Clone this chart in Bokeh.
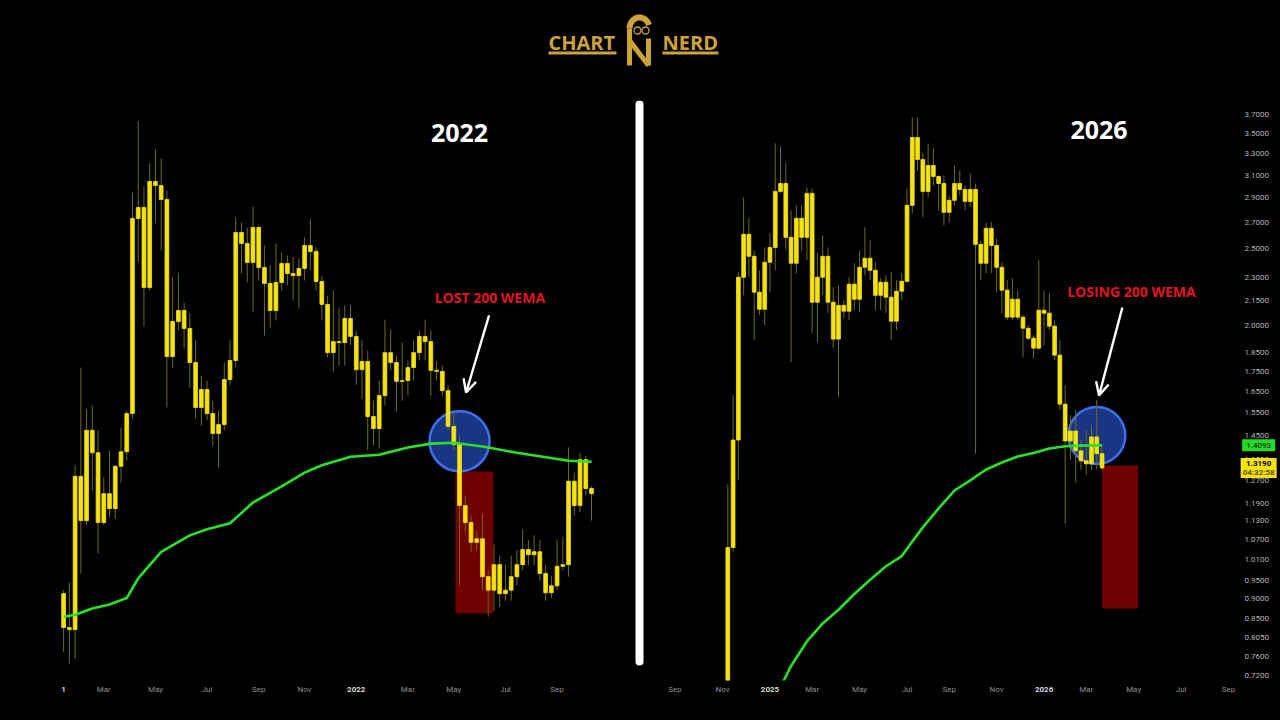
import numpy as np
import pandas as pd
from bokeh.plotting import figure
from bokeh.layouts import column, row
from bokeh.models import (Range1d, FixedTicker, NumeralTickFormatter, LinearAxis,
                          Arrow, OpenHead, ColumnDataSource, LogScale)
from bokeh.core.properties import value
from bokeh.embed import file_html
from bokeh.resources import INLINE

EPOCH = pd.Timestamp("1970-01-01")


def day(d):
    """Date -> days since epoch (the x unit of both panels)."""
    return float((pd.Timestamp(d) - EPOCH) / pd.Timedelta(days=1))


# ---------------- 2021-2022 weekly candles ----------------
left_first_week = "2021-01-11"
left_open = [0.273, 0.237, 0.235, 0.445, 0.370, 0.539, 0.491, 0.367, 0.414, 0.389,
             0.464, 0.493, 0.578, 1.303, 1.364, 0.977, 1.520, 1.495, 1.410, 0.733,
             0.848, 0.888, 0.824, 0.715, 0.593, 0.639, 0.578, 0.532, 0.552, 0.666,
             0.721, 1.229, 1.174, 1.085, 1.255, 1.062, 0.994, 0.888, 0.998, 1.080,
             1.036, 1.027, 1.058, 1.164, 1.136, 1.002, 0.911, 0.745, 0.780, 0.777,
             0.859, 0.797, 0.694, 0.718, 0.571, 0.543, 0.623, 0.745, 0.715, 0.661,
             0.663, 0.700, 0.745, 0.797, 0.780, 0.692, 0.689, 0.636, 0.548, 0.508,
             0.394, 0.367, 0.338, 0.343, 0.293, 0.277, 0.308, 0.273, 0.277, 0.293,
             0.308, 0.328, 0.321, 0.325, 0.297, 0.274, 0.282, 0.306, 0.308, 0.436,
             0.394, 0.477, 0.423]
left_close = [0.237, 0.235, 0.445, 0.370, 0.539, 0.491, 0.367, 0.414, 0.389, 0.464,
              0.493, 0.578, 1.303, 1.364, 0.977, 1.520, 1.495, 1.410, 0.733, 0.848,
              0.888, 0.824, 0.715, 0.593, 0.639, 0.578, 0.532, 0.552, 0.666, 0.721,
              1.229, 1.174, 1.085, 1.255, 1.062, 0.994, 0.888, 0.998, 1.080, 1.036,
              1.027, 1.058, 1.164, 1.136, 1.002, 0.911, 0.745, 0.780, 0.777, 0.859,
              0.797, 0.694, 0.718, 0.571, 0.543, 0.623, 0.745, 0.715, 0.661, 0.663,
              0.700, 0.745, 0.797, 0.780, 0.692, 0.689, 0.636, 0.548, 0.508, 0.394,
              0.367, 0.338, 0.343, 0.293, 0.277, 0.308, 0.273, 0.277, 0.293, 0.308,
              0.328, 0.321, 0.325, 0.297, 0.274, 0.282, 0.306, 0.308, 0.436, 0.394,
              0.477, 0.423, 0.414]
left_high = [0.277, 0.286, 0.466, 0.700, 0.588, 0.598, 0.539, 0.443, 0.496, 0.466,
             0.545, 0.585, 1.452, 1.952, 1.489, 1.639, 1.737, 1.673, 1.464, 1.019,
             1.040, 0.918, 0.877, 0.784, 0.677, 0.663, 0.610, 0.585, 0.715, 0.784,
             1.308, 1.281, 1.255, 1.370, 1.265, 1.164, 1.071, 1.174, 1.131, 1.117,
             1.108, 1.103, 1.204, 1.303, 1.155, 1.027, 0.945, 0.965, 0.899, 0.907,
             0.907, 0.817, 0.784, 0.752, 0.610, 0.663, 0.855, 0.820, 0.736, 0.777,
             0.721, 0.784, 0.817, 0.855, 0.817, 0.718, 0.706, 0.650, 0.581, 0.527,
             0.411, 0.378, 0.355, 0.381, 0.301, 0.335, 0.320, 0.308, 0.320, 0.327,
             0.357, 0.341, 0.348, 0.341, 0.307, 0.294, 0.342, 0.346, 0.502, 0.452,
             0.491, 0.485, 0.427]
left_low = [0.214, 0.204, 0.208, 0.297, 0.364, 0.419, 0.323, 0.363, 0.375, 0.373,
            0.434, 0.475, 0.566, 1.085, 0.831, 0.965, 1.276, 1.140, 0.593, 0.700,
            0.817, 0.758, 0.644, 0.566, 0.550, 0.562, 0.506, 0.462, 0.539, 0.650,
            0.700, 1.036, 0.998, 0.881, 1.006, 0.800, 0.827, 0.852, 0.965, 0.986,
            0.926, 0.896, 1.006, 1.049, 0.965, 0.852, 0.730, 0.686, 0.706, 0.706,
            0.768, 0.652, 0.615, 0.496, 0.506, 0.500, 0.598, 0.692, 0.583, 0.610,
            0.623, 0.663, 0.721, 0.721, 0.621, 0.663, 0.623, 0.539, 0.496, 0.282,
            0.352, 0.324, 0.327, 0.277, 0.248, 0.254, 0.258, 0.265, 0.265, 0.282,
            0.301, 0.307, 0.307, 0.288, 0.265, 0.268, 0.277, 0.301, 0.293, 0.378,
            0.383, 0.411, 0.370]
# 200-week EMA, sampled at these candle indices
left_ema_week = [0, 2, 5, 8, 11, 13, 17, 22, 25, 29, 33, 38, 42, 45, 50, 55, 60,
                 64, 68, 73, 79, 88, 92]
left_ema = [0.248, 0.250, 0.2565, 0.261, 0.268, 0.291, 0.325, 0.348, 0.357, 0.366,
            0.399, 0.427, 0.452, 0.466, 0.483, 0.487, 0.502, 0.510, 0.512, 0.504,
            0.491, 0.475, 0.473]
left_month_dates = ["2021-03-01", "2021-05-03", "2021-07-05", "2021-09-06",
                    "2021-11-01", "2022-03-07", "2022-05-02", "2022-07-04", "2022-09-05"]
left_month_labels = ["Mar", "May", "Jul", "Sep", "Nov", "Mar", "May", "Jul", "Sep"]
# the 2021 year label is cut down to its last digit at the panel's left edge
left_year_dates = ["2021-01-11", "2022-01-03"]
left_year_labels = ["1", "2022"]
left_view_x = ("2020-10-26", "2022-12-06")
left_view_y = (0.1901, 2.130)

# breakdown markers 2022
left_break_date, left_break_price = "2022-05-09", 0.515
left_zone = dict(start="2022-05-04", end="2022-06-19", top=0.454, bottom=0.2515)
left_arrow = dict(x0="2022-06-14", y0=0.870, x1="2022-05-17", y1=0.631)
left_note = dict(date="2022-06-15", price=0.937, text="LOST 200 WEMA")
left_title = dict(date="2022-05-09", price=1.857, text="2022")

# ---------------- 2024-2026 weekly candles ----------------
right_first_week = "2024-11-11"
right_open = [0.60, 1.046, 1.431, 2.301, 2.608, 2.446, 2.203, 2.096, 2.404, 2.510,
              2.956, 3.025, 2.585, 2.397, 2.733, 2.585, 2.939, 2.139, 2.301, 2.446,
              2.139, 1.921, 2.120, 2.084, 2.255, 2.158, 2.369, 2.432, 2.348, 2.183,
              2.268, 2.171, 2.024, 2.209, 2.274, 2.838, 3.460, 3.245, 2.956, 3.188,
              3.088, 3.025, 2.781, 2.880, 3.025, 2.973, 2.871, 2.973, 2.533, 2.397,
              2.654, 2.525, 2.369, 2.216, 2.048, 2.158, 2.048, 1.983, 1.926, 1.871,
              2.090, 2.072, 1.995, 1.833, 1.589, 1.427, 1.469, 1.387, 1.347, 1.335,
              1.444, 1.375]
right_close = [1.046, 1.431, 2.301, 2.608, 2.446, 2.203, 2.096, 2.404, 2.510, 2.956,
               3.025, 2.585, 2.397, 2.733, 2.585, 2.939, 2.139, 2.301, 2.446, 2.139,
               1.921, 2.120, 2.084, 2.255, 2.158, 2.369, 2.432, 2.348, 2.183, 2.268,
               2.171, 2.024, 2.209, 2.274, 2.838, 3.460, 3.245, 2.956, 3.188, 3.088,
               3.025, 2.781, 2.880, 3.025, 2.973, 2.871, 2.973, 2.533, 2.397, 2.654,
               2.525, 2.369, 2.216, 2.048, 2.158, 2.048, 1.983, 1.926, 1.871, 2.090,
               2.072, 1.995, 1.833, 1.589, 1.427, 1.469, 1.387, 1.347, 1.335, 1.444,
               1.375, 1.319]
right_high = [1.257, 1.631, 2.335, 2.905, 2.733, 2.489, 2.348, 2.510, 2.616, 3.400,
              3.370, 3.217, 2.797, 2.838, 2.838, 2.990, 2.981, 2.474, 2.600, 2.510,
              2.235, 2.248, 2.152, 2.301, 2.397, 2.489, 2.662, 2.562, 2.404, 2.294,
              2.314, 2.335, 2.281, 2.328, 2.981, 3.668, 3.668, 3.312, 3.400, 3.360,
              3.096, 3.096, 2.922, 3.188, 3.142, 3.008, 3.115, 3.025, 2.562, 2.701,
              2.701, 2.577, 2.404, 2.281, 2.294, 2.216, 2.060, 2.001, 1.943, 2.418,
              2.216, 2.196, 2.030, 1.915, 1.679, 1.539, 1.562, 1.431, 1.474, 1.495,
              1.608, 1.411]
right_low = [0.58, 1.034, 1.275, 2.183, 2.301, 1.915, 2.060, 2.001, 2.203, 2.348,
             2.939, 2.489, 1.796, 2.328, 2.489, 2.418, 1.955, 1.904, 2.183, 2.072,
             1.871, 1.622, 2.042, 2.030, 2.090, 2.078, 2.314, 2.281, 2.090, 2.090,
             2.072, 1.915, 1.972, 2.152, 2.261, 2.773, 3.142, 2.741, 2.905, 3.008,
             2.797, 2.678, 2.701, 2.838, 2.922, 2.797, 2.822, 1.375, 2.281, 2.328,
             2.328, 2.203, 2.072, 2.030, 2.030, 2.030, 1.822, 1.915, 1.817, 1.860,
             1.887, 1.972, 1.806, 1.562, 1.119, 1.351, 1.264, 1.312, 1.293, 1.312,
             1.312, 1.312]
right_ema_week = [9, 12, 15, 18, 21, 24, 27, 30, 33, 35, 37, 40, 43, 46, 49, 52, 55,
                  58, 61, 64, 67, 71]
right_ema = [0.675, 0.74, 0.795, 0.838, 0.872, 0.913, 0.952, 0.99, 1.02, 1.064, 1.109,
             1.172, 1.235, 1.272, 1.313, 1.34, 1.364, 1.378, 1.396, 1.405, 1.408, 1.4093]
right_month_dates = ["2024-09-02", "2024-11-04", "2025-03-03", "2025-05-05",
                     "2025-07-07", "2025-09-01", "2025-11-03", "2026-03-02",
                     "2026-05-04", "2026-07-06", "2026-09-07"]
right_month_labels = ["Sep", "Nov", "Mar", "May", "Jul", "Sep", "Nov", "Mar",
                      "May", "Jul", "Sep"]
right_year_dates = ["2025-01-06", "2026-01-05"]
right_year_labels = ["2025", "2026"]
right_price_ticks = [3.7, 3.5, 3.3, 3.1, 2.9, 2.7, 2.5, 2.3, 2.15, 2.0, 1.85, 1.75,
                     1.65, 1.55, 1.45, 1.35, 1.27, 1.19, 1.13, 1.07, 1.01, 0.95,
                     0.90, 0.85, 0.805, 0.76, 0.72]
right_view_x = ("2024-07-26", "2026-11-15")
right_view_y = (0.7094, 3.854)
tag_date = "2026-10-17"          # price-scale column, right of the last bar
bar_countdown = "04:32:58"

right_break_date, right_break_price = "2026-03-16", 1.45
right_zone = dict(start="2026-03-23", end="2026-05-10", top=1.328, bottom=0.875)
right_arrow = dict(x0="2026-04-19", y0=2.107, x1="2026-03-19", y1=1.630)
right_note = dict(date="2026-05-01", price=2.207, text="LOSING 200 WEMA")
right_title = dict(date="2026-03-19", price=3.531, text="2026")

# ---------------- styling ----------------
BG = "#000000"
YELLOW = "#f6e20f"
WICK = "#6f6a1a"
EMA_GREEN = "#27e327"
ZONE_RED = "#700000"
CIRCLE_FILL = "#1b3a8e"
CIRCLE_LINE = "#3d70ee"
NOTE_RED = "#e3141b"
GOLD = "#cda236"
AXIS_GRAY = "#8e8e8e"
PANEL_H = 628


def style_time_axis(ax, dates, labels, color, bold, standoff):
    ax.ticker = FixedTicker(ticks=[day(d) for d in dates])
    ax.major_label_overrides = {day(d): t for d, t in zip(dates, labels)}
    ax.axis_line_color = None
    ax.major_tick_line_color = None
    ax.minor_tick_line_color = None
    ax.major_tick_out = 0
    ax.major_tick_in = 0
    ax.minor_tick_out = 0
    ax.major_label_standoff = standoff
    ax.major_label_text_color = color
    ax.major_label_text_font = "Roboto"
    ax.major_label_text_font_size = "8px"
    ax.major_label_text_font_style = "bold" if bold else "normal"


def candle_panel(first_week, o, c, h, l, ema_idx, ema_vals, view_x, view_y,
                 width, body_days, month_dates, month_labels, year_dates,
                 year_labels, price_axis):
    weeks = pd.date_range(first_week, periods=len(o), freq="7D")
    xs = [day(w) for w in weeks]
    src = ColumnDataSource(dict(
        x=xs,
        top=[max(a, b) for a, b in zip(o, c)],
        bottom=[min(a, b) for a, b in zip(o, c)],
        high=h, low=l))

    p = figure(width=width, height=PANEL_H,
               x_range=Range1d(day(view_x[0]), day(view_x[1])),
               y_range=Range1d(*view_y), y_axis_type="log",
               y_axis_location="right" if price_axis else None,
               output_backend="svg", toolbar_location=None,
               background_fill_color=BG, border_fill_color=BG,
               outline_line_color=None, min_border_top=8, min_border_bottom=40,
               min_border_left=0, min_border_right=0)
    p.y_scale = LogScale()
    p.xgrid.visible = False
    p.ygrid.visible = False

    # month names, then a second row for the (bold) year labels on the same line
    style_time_axis(p.xaxis[0], month_dates, month_labels, AXIS_GRAY, False, 4)
    years = LinearAxis()
    style_time_axis(years, year_dates, year_labels, "#d8d8d8", True, -10)
    p.add_layout(years, "below")

    if price_axis:
        ya = p.yaxis[0]
        ya.ticker = FixedTicker(ticks=right_price_ticks)
        ya.formatter = NumeralTickFormatter(format="0.0000")
        ya.axis_line_color = None
        ya.major_tick_line_color = None
        ya.minor_tick_line_color = None
        ya.major_tick_out = 0
        ya.major_tick_in = 0
        ya.minor_tick_out = 0
        ya.major_label_standoff = -36
        ya.major_label_text_color = "#b4b4b4"
        ya.major_label_text_font = "Roboto"
        ya.major_label_text_font_size = "8px"

    p.segment(x0="x", y0="low", x1="x", y1="high", source=src,
              line_color=WICK, line_width=1)
    p.vbar(x="x", width=body_days, top="top", bottom="bottom", source=src,
           fill_color=YELLOW, line_color=YELLOW, line_width=0.8)
    p.line([xs[i] for i in ema_idx], ema_vals, line_color=EMA_GREEN,
           line_width=2.6, line_join="round")
    return p


def markers(p, break_date, break_price, size, zone, arrow, note, title):
    # projected drop zone and the EMA-loss circle sit under the candles
    p.quad(left=[day(zone["start"])], right=[day(zone["end"])],
           top=[zone["top"]], bottom=[zone["bottom"]],
           fill_color=ZONE_RED, line_color=None, level="underlay")
    p.scatter(x=[day(break_date)], y=[break_price], size=size, marker="circle",
              fill_color=CIRCLE_FILL, fill_alpha=0.92, line_color=CIRCLE_LINE,
              line_width=2.5, level="underlay")
    p.add_layout(Arrow(end=OpenHead(size=13, line_color="white", line_width=2.4),
                       x_start=day(arrow["x0"]), y_start=arrow["y0"],
                       x_end=day(arrow["x1"]), y_end=arrow["y1"],
                       line_color="white", line_width=2.4))
    p.text(x=[day(note["date"])], y=[note["price"]], text=[note["text"]],
           text_align="center", text_baseline="middle",
           text_font=value("Open Sans"), text_font_style="bold",
           text_font_size="14px", text_color=NOTE_RED)
    p.text(x=[day(title["date"])], y=[title["price"]], text=[title["text"]],
           text_align="center", text_baseline="middle",
           text_font=value("Open Sans"), text_font_style="bold",
           text_font_size="25px", text_color="white")


left = candle_panel(left_first_week, left_open, left_close, left_high, left_low,
                    left_ema_week, left_ema, left_view_x, left_view_y, 632, 4.6,
                    left_month_dates, left_month_labels, left_year_dates,
                    left_year_labels, False)
markers(left, left_break_date, left_break_price, 60, left_zone, left_arrow,
        left_note, left_title)

right = candle_panel(right_first_week, right_open, right_close, right_high,
                     right_low, right_ema_week, right_ema, right_view_x,
                     right_view_y, 634, 5.0, right_month_dates, right_month_labels,
                     right_year_dates, right_year_labels, True)
markers(right, right_break_date, right_break_price, 57, right_zone, right_arrow,
        right_note, right_title)

# last-value tags on the price scale: EMA (green) and last close (yellow)
tx = day(tag_date)
right.rect(x=[tx], y=[right_ema[-1]], width=33, height=12, width_units="screen",
           height_units="screen", fill_color="#22dd22", line_color=None,
           level="overlay")
right.text(x=[tx], y=[right_ema[-1]], text=[f"{right_ema[-1]:.4f}"],
           text_align="center", text_baseline="middle", text_font=value("Roboto"),
           text_font_size="8px", text_color="black", level="overlay")
right.rect(x=[tx], y=[right_close[-1]], width=36, height=20, width_units="screen",
           height_units="screen", fill_color=YELLOW, line_color=None,
           level="overlay")
right.text(x=[tx, tx], y=[right_close[-1]] * 2,
           text=[f"{right_close[-1]:.4f}", bar_countdown], y_offset=[-4, 5],
           text_align="center", text_baseline="middle", text_font=value("Roboto"),
           text_font_size="8px", text_color=["black", "#5c5000"],
           text_font_style="bold", level="overlay")

# vertical divider between the two periods (frame aligned with the panels)
divider = figure(width=14, height=PANEL_H, x_range=Range1d(0, 14),
                 y_range=Range1d(680, 100), x_axis_location=None,
                 y_axis_location=None, output_backend="svg", toolbar_location=None,
                 background_fill_color=BG, border_fill_color=BG,
                 outline_line_color=None, min_border_top=8, min_border_bottom=40,
                 min_border_left=0, min_border_right=0)
divider.xgrid.visible = False
divider.ygrid.visible = False
divider.segment(x0=[7], y0=[104], x1=[7], y1=[661], line_color="white",
                line_width=8, line_cap="round")

# brand header
header = figure(width=1280, height=92, x_range=Range1d(0, 1280),
                y_range=Range1d(92, 0), x_axis_location=None, y_axis_location=None,
                output_backend="svg", toolbar_location=None,
                background_fill_color=BG, border_fill_color=BG,
                outline_line_color=None, min_border=0)
header.xgrid.visible = False
header.ygrid.visible = False
header.text(x=[548, 662], y=[42, 42], text=["CHART", "NERD"], text_align="left",
            text_baseline="middle", text_font=value("Open Sans"),
            text_font_style="bold", text_font_size="20px", text_color=GOLD)
header.quad(left=[548, 662], right=[616, 718], top=[51, 51], bottom=[54, 54],
            fill_color=GOLD, line_color=None)
theta = np.linspace(np.pi, 1.9 * np.pi, 30)
header.line(639 + 10 * np.cos(theta), 28 + 11 * np.sin(theta), line_color=GOLD,
            line_width=6)
header.multi_line(xs=[[629, 629], [629, 648], [648, 648]],
                  ys=[[28, 65], [40, 65], [38, 65]], line_color=GOLD, line_width=5)
header.scatter(x=[637, 645], y=[30, 30], size=7, marker="circle", fill_color=None,
               line_color=GOLD, line_width=1.3)

layout = column(header, row(left, divider, right))
html = file_html(layout, INLINE, title="200 WEMA")
html = html.replace("</head>",
                    "<style>html,body{margin:0;padding:0;background:#000;}</style></head>", 1)
open("out.html", "w").write(html)
